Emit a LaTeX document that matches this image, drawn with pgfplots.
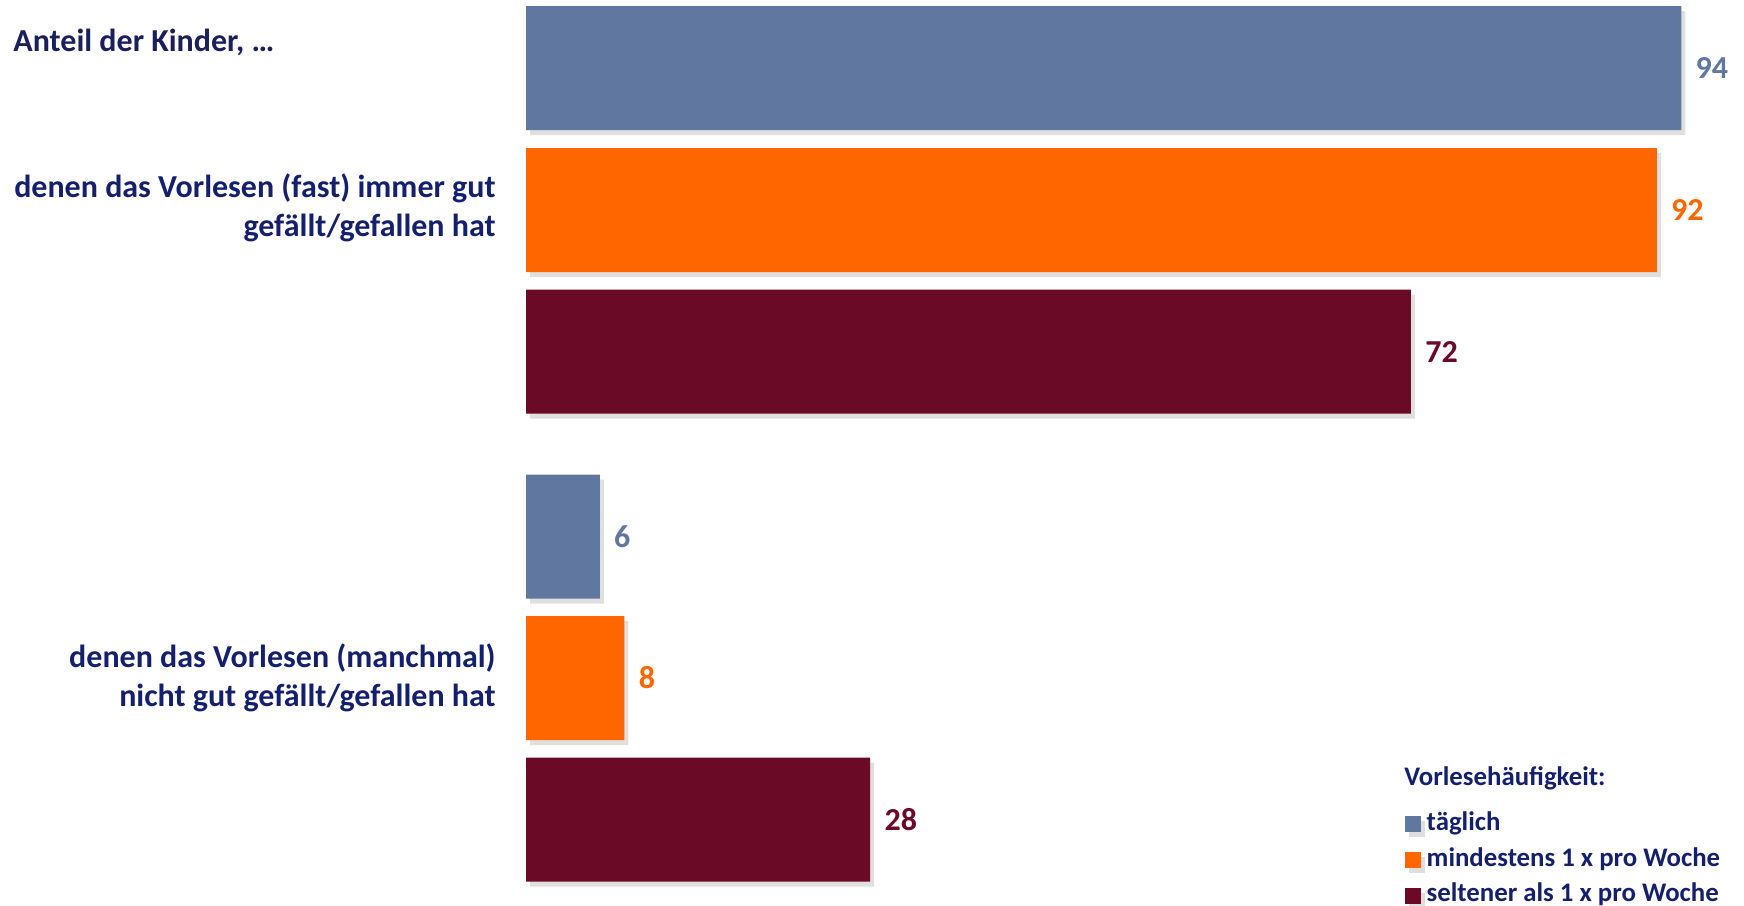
\documentclass[border=0pt]{standalone}
\usepackage{pgfplots}
\pgfplotsset{compat=1.18}
\usepackage{fontspec}
\setmainfont{Carlito}
\usetikzlibrary{shadows}
\definecolor{cblue}{HTML}{6078A0}
\definecolor{corange}{HTML}{FF6600}
\definecolor{cmaroon}{HTML}{6B0A26}
\definecolor{navy}{HTML}{14206E}
\definecolor{darknavy}{HTML}{1B1F5E}
\begin{document}
\begin{tikzpicture}
\begin{axis}[
  width=872pt, height=452.5pt, scale only axis,
  xmin=-42.80, xmax=99.10, ymin=0, ymax=905, y dir=reverse,
  axis line style={draw=none}, ticks=none,
  clip=false,
  /pgf/number format/assume math mode=true,
  xbar, bar shift=0pt, bar width=124,
  nodes near coords, point meta=x,
  every node near coord/.append style={anchor=west, inner sep=0pt, xshift=7pt, font=\bfseries\fontsize{16}{19}\selectfont},
  legend image code/.code={\fill[#1] (0pt,-4pt) rectangle (8pt,4pt);},
  legend style={at={(axis cs:71.46,814)}, anchor=north west, draw=none, fill=none,
    font=\bfseries\fontsize{13.4}{16}\selectfont, text=navy, row sep=7.8pt, inner sep=0pt,
    nodes={inner xsep=3pt, inner ysep=0pt, text height=8pt, text depth=2pt}},
  legend cell align=left,
]
\addplot[fill=cblue, draw=none, drop shadow={opacity=0.25, shadow xshift=2pt, shadow yshift=-2.5pt},
  nodes near coords style={text=cblue}] coordinates {(94,68) (6,536.5)};
\addlegendentry{täglich}
\addplot[fill=corange, draw=none, drop shadow={opacity=0.25, shadow xshift=2pt, shadow yshift=-2.5pt},
  nodes near coords style={text=corange}] coordinates {(92,210) (8,678)};
\addlegendentry{mindestens 1 x pro Woche}
\addplot[fill=cmaroon, draw=none, drop shadow={opacity=0.25, shadow xshift=2pt, shadow yshift=-2.5pt},
  nodes near coords style={text=cmaroon}] coordinates {(72,351.5) (28,819.5)};
\addlegendentry{seltener als 1 x pro Woche}
\node[anchor=west, inner sep=0pt, text=darknavy, font=\bfseries\fontsize{16}{19}\selectfont] at (axis cs:-41.74,42) {Anteil der Kinder, …};
\node[anchor=east, inner sep=0pt, align=right, text=navy, font=\bfseries\fontsize{16}{19.5}\selectfont] at (axis cs:-2.44,208) {denen das Vorlesen (fast) immer gut\\gefällt/gefallen hat};
\node[anchor=east, inner sep=0pt, align=right, text=navy, font=\bfseries\fontsize{16}{19.5}\selectfont] at (axis cs:-2.44,678) {denen das Vorlesen (manchmal)\\nicht gut gefällt/gefallen hat};
\node[anchor=west, inner sep=0pt, text=navy, font=\bfseries\fontsize{13.4}{16}\selectfont] at (axis cs:71.43,778.5) {Vorlesehäufigkeit:};
\end{axis}
\end{tikzpicture}
\end{document}
